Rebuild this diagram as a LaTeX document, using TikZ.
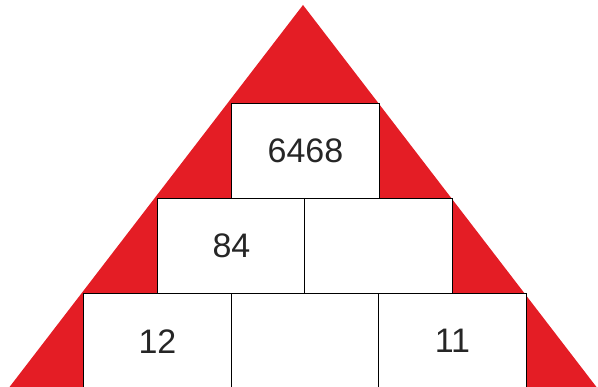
\documentclass[tikz,border=0pt]{standalone}
\usepackage{fontspec}
\setmainfont{Liberation Sans}
\definecolor{pyrred}{RGB}{228,29,37}
\begin{document}
\begin{tikzpicture}[x=1pt,y=-1pt,
  brick/.style={draw=black, line width=1.4pt, fill=white, minimum width=147.5pt, minimum height=95pt, inner sep=0pt, anchor=north west, font=\fontsize{34}{40}\selectfont, text=black!85}]
\useasboundingbox (0,0) rectangle (598,387);
\clip (0,0) rectangle (598,387);
\fill[pyrred] (303,5) -- (598,389) -- (8,389) -- cycle;
\node[brick] (top) at (231,103) {6468};
\node[brick] (ml) at (157,198) {84};
\node[brick] (mr) at (304,198) {};
\node[brick] (bl) at (83,293) {12};
\node[brick] (bm) at (231,293) {};
\node[brick] (br) at (378,293) {11};
\end{tikzpicture}
\end{document}
